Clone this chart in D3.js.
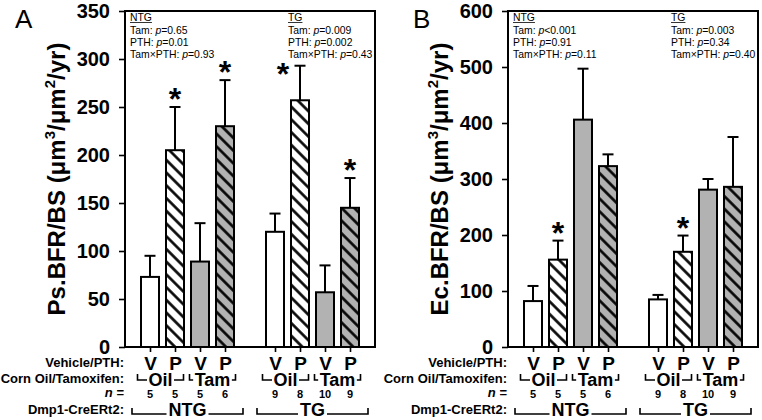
<!DOCTYPE html>
<html><head><meta charset="utf-8">
<script src="https://cdn.jsdelivr.net/npm/d3@7"></script>
<style>
body{margin:0;background:#fff}
svg{font-family:"Liberation Sans",Arial,sans-serif}
</style>
</head><body>
<svg id="chart" width="762" height="420"></svg>
<script>
// ---------------- data ----------------
const genotypes = ["NTG", "TG"];
const pthLabels = ["V", "P", "V", "P", "V", "P", "V", "P"];
const treatmentLabels = ["Oil", "Tam"];
const nValues = [5, 5, 5, 6, 9, 8, 10, 9];
const slots = [0, 1, 2, 3, 5, 6, 7, 8];
const barStyles = ["open", "hatch", "gray", "grayhatch", "open", "hatch", "gray", "grayhatch"];

const psMeans = [73, 205, 89, 230, 120, 257, 57, 145];
const psErrors = [22, 45, 40, 48, 19, 36, 28, 31];
const psStars = ["", "top", "", "top", "", "left", "", "top"];
const psTicks = [0, 50, 100, 150, 200, 250, 300, 350];

const ecMeans = [82, 156, 406, 323, 85, 170, 281, 286];
const ecErrors = [27, 34, 91, 21, 8, 29, 19, 89];
const ecStars = ["", "top", "", "", "", "top", "", ""];
const ecTicks = [0, 100, 200, 300, 400, 500, 600];

const statNames = ["Tam: ", "PTH: ", "Tam×PTH: "];
const psStats = [["=0.65", "=0.01", "=0.93"], ["=0.009", "=0.002", "=0.43"]];
const ecStats = [["<0.001", "=0.91", "=0.11"], ["=0.003", "=0.34", "=0.40"]];

const rowLabels = ["Vehicle/PTH:", "Corn Oil/Tamoxifen:", "n =", "Dmp1-CreERt2:"];

// ---------------- drawing ----------------
const svg = d3.select("#chart");
const defs = svg.append("defs");
const GRAY = "#b2b2b2";

function hatch(id, bg) {
  const p = defs.append("pattern").attr("id", id)
    .attr("patternUnits", "userSpaceOnUse")
    .attr("width", 9).attr("height", 9)
    .attr("patternTransform", "rotate(45)");
  p.append("rect").attr("width", 9).attr("height", 9).attr("fill", bg);
  p.append("line").attr("x1", -1).attr("x2", 10).attr("y1", 4.5).attr("y2", 4.5)
    .attr("stroke", "#000").attr("stroke-width", 2.6);
}
hatch("hatchW", "#fff");
hatch("hatchG", GRAY);
const fillFor = {open: "#fff", hatch: "url(#hatchW)", gray: GRAY, grayhatch: "url(#hatchG)"};

const plotTop = 11, plotBottom = 347;

function drawPanel(cfg) {
  const g = svg.append("g");
  const x = d3.scaleLinear().domain([-1, 9]).range([cfg.left, cfg.left + 250]);
  const y = d3.scaleLinear().domain([0, cfg.max]).range([plotBottom, plotTop]);

  // panel letter
  g.append("text").attr("x", cfg.letterX).attr("y", 28)
    .attr("font-size", 26).text(cfg.letter);

  // y axis
  const ya = g.append("g").attr("transform", `translate(${cfg.left},0)`)
    .call(d3.axisLeft(y).tickValues(cfg.ticks).tickSize(6).tickPadding(9));
  ya.select(".domain").remove();
  ya.selectAll(".tick line").attr("stroke", "#000").attr("stroke-width", 1.6);
  ya.selectAll(".tick text").attr("font-size", 20).attr("font-weight", "bold")
    .attr("font-family", "Liberation Sans, Arial, sans-serif").attr("fill", "#000");

  // x axis (V/P labels)
  const xa = g.append("g").attr("transform", `translate(0,${plotBottom})`)
    .call(d3.axisBottom(x).tickValues(slots).tickSize(5).tickPadding(5)
      .tickFormat((d, i) => pthLabels[i]));
  xa.select(".domain").remove();
  xa.selectAll(".tick line").attr("stroke", "#000").attr("stroke-width", 1.6);
  xa.selectAll(".tick text").attr("font-size", 19).attr("font-weight", "bold")
    .attr("font-family", "Liberation Sans, Arial, sans-serif").attr("fill", "#000");

  // y title
  const tx = cfg.left - 60, ty = (plotTop + plotBottom) / 2;
  const title = g.append("text")
    .attr("transform", `translate(${tx},${ty}) rotate(-90)`)
    .attr("text-anchor", "middle").attr("font-size", 24).attr("font-weight", "bold");
  title.append("tspan").text(cfg.titlePrefix + " (μm");
  title.append("tspan").attr("font-size", 15).attr("dy", -10).text("3");
  title.append("tspan").attr("dy", 10).text("/μm");
  title.append("tspan").attr("font-size", 15).attr("dy", -10).text("2");
  title.append("tspan").attr("dy", 10).text("/yr)");

  // error bars
  const bw = 18;
  const eg = g.append("g").attr("stroke", "#000").attr("stroke-width", 2);
  cfg.means.forEach((m, i) => {
    const cx = x(slots[i]);
    const yt = y(m + cfg.errors[i]);
    eg.append("line").attr("x1", cx).attr("x2", cx).attr("y1", y(m)).attr("y2", yt);
    eg.append("line").attr("x1", cx - 5.5).attr("x2", cx + 5.5).attr("y1", yt).attr("y2", yt);
  });

  // bars
  g.append("g").selectAll("rect").data(cfg.means).join("rect")
    .attr("x", (d, i) => x(slots[i]) - bw / 2)
    .attr("y", d => y(d))
    .attr("width", bw)
    .attr("height", d => plotBottom - y(d))
    .attr("fill", (d, i) => fillFor[barStyles[i]])
    .attr("stroke", "#000").attr("stroke-width", 2);

  // stars
  cfg.stars.forEach((s, i) => {
    if (!s) return;
    const cx = x(slots[i]);
    const cap = y(cfg.means[i] + cfg.errors[i]);
    let sx = cx, sy = cap - 15;
    if (s === "left") { sx = cx - 17; sy = cap + 1; }
    g.append("text").attr("x", sx).attr("y", sy + 18).attr("text-anchor", "middle")
      .attr("font-size", 32).attr("font-weight", "bold").text("*");
  });

  // frame
  g.append("rect").attr("x", cfg.left).attr("y", plotTop)
    .attr("width", 250).attr("height", plotBottom - plotTop)
    .attr("fill", "none").attr("stroke", "#000").attr("stroke-width", 2);

  // stats text
  genotypes.forEach((gname, gi) => {
    const sx = gi === 0 ? cfg.left + 5 : cfg.left + 163;
    const st = g.append("g").attr("font-size", 10.4);
    const gt = st.append("text").attr("x", sx).attr("y", 21).text(gname);
    const w = gt.node().getComputedTextLength();
    st.append("line").attr("x1", sx).attr("x2", sx + w).attr("y1", 22.5).attr("y2", 22.5)
      .attr("stroke", "#000").attr("stroke-width", 0.8);
    statNames.forEach((nm, k) => {
      const t = st.append("text").attr("x", sx).attr("y", 33.5 + 12 * k);
      t.append("tspan").text(nm);
      t.append("tspan").attr("font-style", "italic").text("p");
      t.append("tspan").text(cfg.stats[gi][k]);
    });
  });

  // row labels
  const rl = g.append("g").attr("font-size", 13).attr("font-weight", "bold").attr("text-anchor", "end");
  const rx = cfg.left - 1;
  rl.append("text").attr("x", rx).attr("y", 367).text(rowLabels[0]);
  rl.append("text").attr("x", rx).attr("y", 383).text(rowLabels[1]);
  const nt = rl.append("text").attr("x", rx).attr("y", 397);
  nt.append("tspan").attr("font-style", "italic").text("n");
  nt.append("tspan").text(" =");
  rl.append("text").attr("x", rx).attr("y", 414).text(rowLabels[3]);

  // n values
  g.append("g").selectAll("text").data(nValues).join("text")
    .attr("x", (d, i) => x(slots[i])).attr("y", 398)
    .attr("text-anchor", "middle").attr("font-size", 11).attr("font-weight", "bold")
    .text(d => d);

  // treatment brackets
  const bg = g.append("g");
  [0, 1].forEach(gi => {
    [0, 1].forEach(ti => {
      const a = slots[gi * 4 + ti * 2], b = slots[gi * 4 + ti * 2 + 1];
      const cx = (x(a) + x(b)) / 2 - (ti === 0 ? 2 : 0);
      const t = bg.append("text").attr("x", cx).attr("y", 386).attr("text-anchor", "middle")
        .attr("font-size", 18).attr("font-weight", "bold").text(treatmentLabels[ti]);
      const hw = t.node().getComputedTextLength() / 2 + 1.5;
      bg.append("path").attr("d", `M${cx - 23},374V380H${cx - hw}M${cx + hw},380H${cx + 23}V374`)
        .attr("fill", "none").attr("stroke", "#000").attr("stroke-width", 1.6);
    });
    // genotype bracket
    const x0 = x(slots[gi * 4]) - 18, x1 = x(slots[gi * 4 + 3]) + 18;
    const cx = (x0 + x1) / 2;
    const t = bg.append("text").attr("x", cx).attr("y", 416).attr("text-anchor", "middle")
      .attr("font-size", 18).attr("font-weight", "bold").text(genotypes[gi]);
    const hw = t.node().getComputedTextLength() / 2 + 2;
    bg.append("path").attr("d", `M${x0},408V414H${cx - hw}M${cx + hw},414H${x1}V408`)
      .attr("fill", "none").attr("stroke", "#000").attr("stroke-width", 1.6);
  });
}

drawPanel({left: 125, letter: "A", letterX: 15, max: 350, ticks: psTicks,
  means: psMeans, errors: psErrors, stars: psStars, stats: psStats, titlePrefix: "Ps.BFR/BS"});
drawPanel({left: 508, letter: "B", letterX: 413, max: 600, ticks: ecTicks,
  means: ecMeans, errors: ecErrors, stars: ecStars, stats: ecStats, titlePrefix: "Ec.BFR/BS"});
</script>
</body></html>
